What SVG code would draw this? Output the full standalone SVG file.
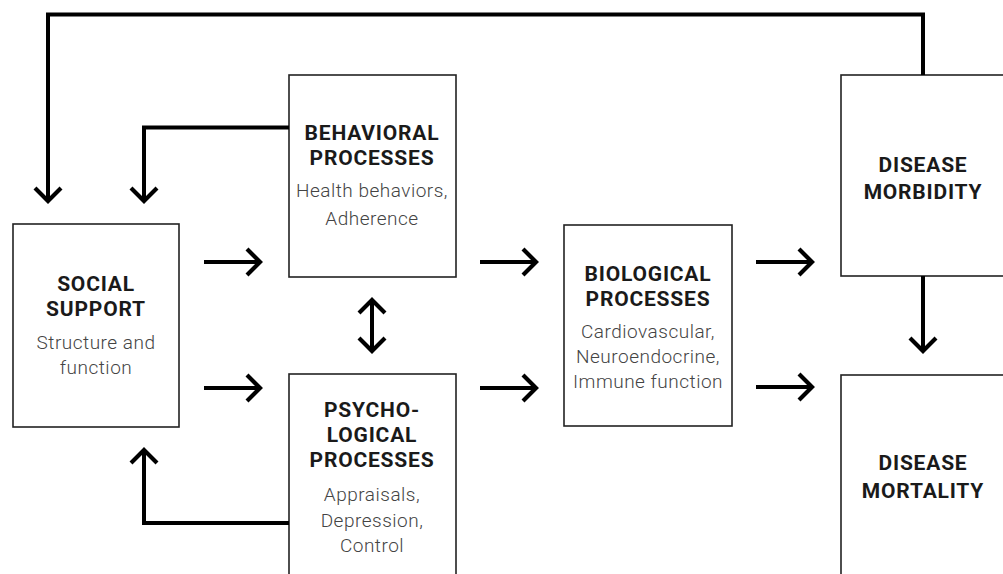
<svg xmlns="http://www.w3.org/2000/svg" width="1003" height="574" viewBox="0 0 1003 574">
<style>
.box{fill:#fff;stroke:#222;stroke-width:1.6}
.t{font-family:Roboto,"Liberation Sans",sans-serif;font-weight:700;font-size:21px;letter-spacing:0.8px;fill:#1a1a1a;text-anchor:middle}
.s{font-family:Roboto,"Liberation Sans",sans-serif;font-weight:300;font-size:19px;letter-spacing:0.5px;fill:#444;text-anchor:middle}
.c{fill:none;stroke:#000;stroke-width:4;stroke-linejoin:miter}
</style>
<defs>
<marker id="ah" markerUnits="userSpaceOnUse" markerWidth="30" markerHeight="40" viewBox="-5 -5 30 40" refX="15" refY="13" orient="auto-start-reverse" overflow="visible">
<path d="M1 0 L14 13 L1 26" fill="none" stroke="#000" stroke-width="4.2"/>
</marker>
</defs>
<rect width="1003" height="574" fill="#fff"/>
<g id="social"><rect class="box" x="13" y="224" width="166" height="203"/>
<text class="t" y="291"><tspan x="96">SOCIAL</tspan><tspan x="96" dy="25">SUPPORT</tspan></text>
<text class="s" y="349"><tspan x="96">Structure and</tspan><tspan x="96" dy="25">function</tspan></text></g>
<g id="behavioral"><rect class="box" x="289" y="75" width="167" height="202"/>
<text class="t" y="140"><tspan x="372">BEHAVIORAL</tspan><tspan x="372" dy="25">PROCESSES</tspan></text>
<text class="s" y="197"><tspan x="372">Health behaviors,</tspan><tspan x="372" dy="28">Adherence</tspan></text></g>
<g id="psychological"><rect class="box" x="289" y="374" width="167" height="210"/>
<text class="t" y="417"><tspan x="372">PSYCHO-</tspan><tspan x="372" dy="25">LOGICAL</tspan><tspan x="372" dy="25">PROCESSES</tspan></text>
<text class="s" y="501"><tspan x="372">Appraisals,</tspan><tspan x="372" dy="26">Depression,</tspan><tspan x="372" dy="25">Control</tspan></text></g>
<g id="biological"><rect class="box" x="564" y="225" width="168" height="201"/>
<text class="t" y="281"><tspan x="648">BIOLOGICAL</tspan><tspan x="648" dy="25">PROCESSES</tspan></text>
<text class="s" y="338"><tspan x="648">Cardiovascular,</tspan><tspan x="648" dy="25">Neuroendocrine,</tspan><tspan x="648" dy="25">Immune function</tspan></text></g>
<g id="morbidity"><rect class="box" x="841" y="75" width="166" height="201"/>
<text class="t" y="172"><tspan x="923">DISEASE</tspan><tspan x="923" dy="27">MORBIDITY</tspan></text></g>
<g id="mortality"><rect class="box" x="841" y="375" width="166" height="210"/>
<text class="t" y="470"><tspan x="923">DISEASE</tspan><tspan x="923" dy="28">MORTALITY</tspan></text></g>
<g id="connectors">
<path class="c" d="M923 75 V14.5 H48 V202" marker-end="url(#ah)"/>
<path class="c" d="M289 127.5 H144 V202" marker-end="url(#ah)"/>
<path class="c" d="M289 523 H144 V449" marker-end="url(#ah)"/>
<path class="c" d="M372 299 V352" marker-start="url(#ah)" marker-end="url(#ah)"/>
<path class="c" d="M923 276 V352" marker-end="url(#ah)"/>
<path class="c" d="M204 262 H261" marker-end="url(#ah)"/>
<path class="c" d="M204 388 H261" marker-end="url(#ah)"/>
<path class="c" d="M480 262 H537" marker-end="url(#ah)"/>
<path class="c" d="M480 388 H537" marker-end="url(#ah)"/>
<path class="c" d="M756 262 H813" marker-end="url(#ah)"/>
<path class="c" d="M756 387 H813" marker-end="url(#ah)"/>
</g>
</svg>
